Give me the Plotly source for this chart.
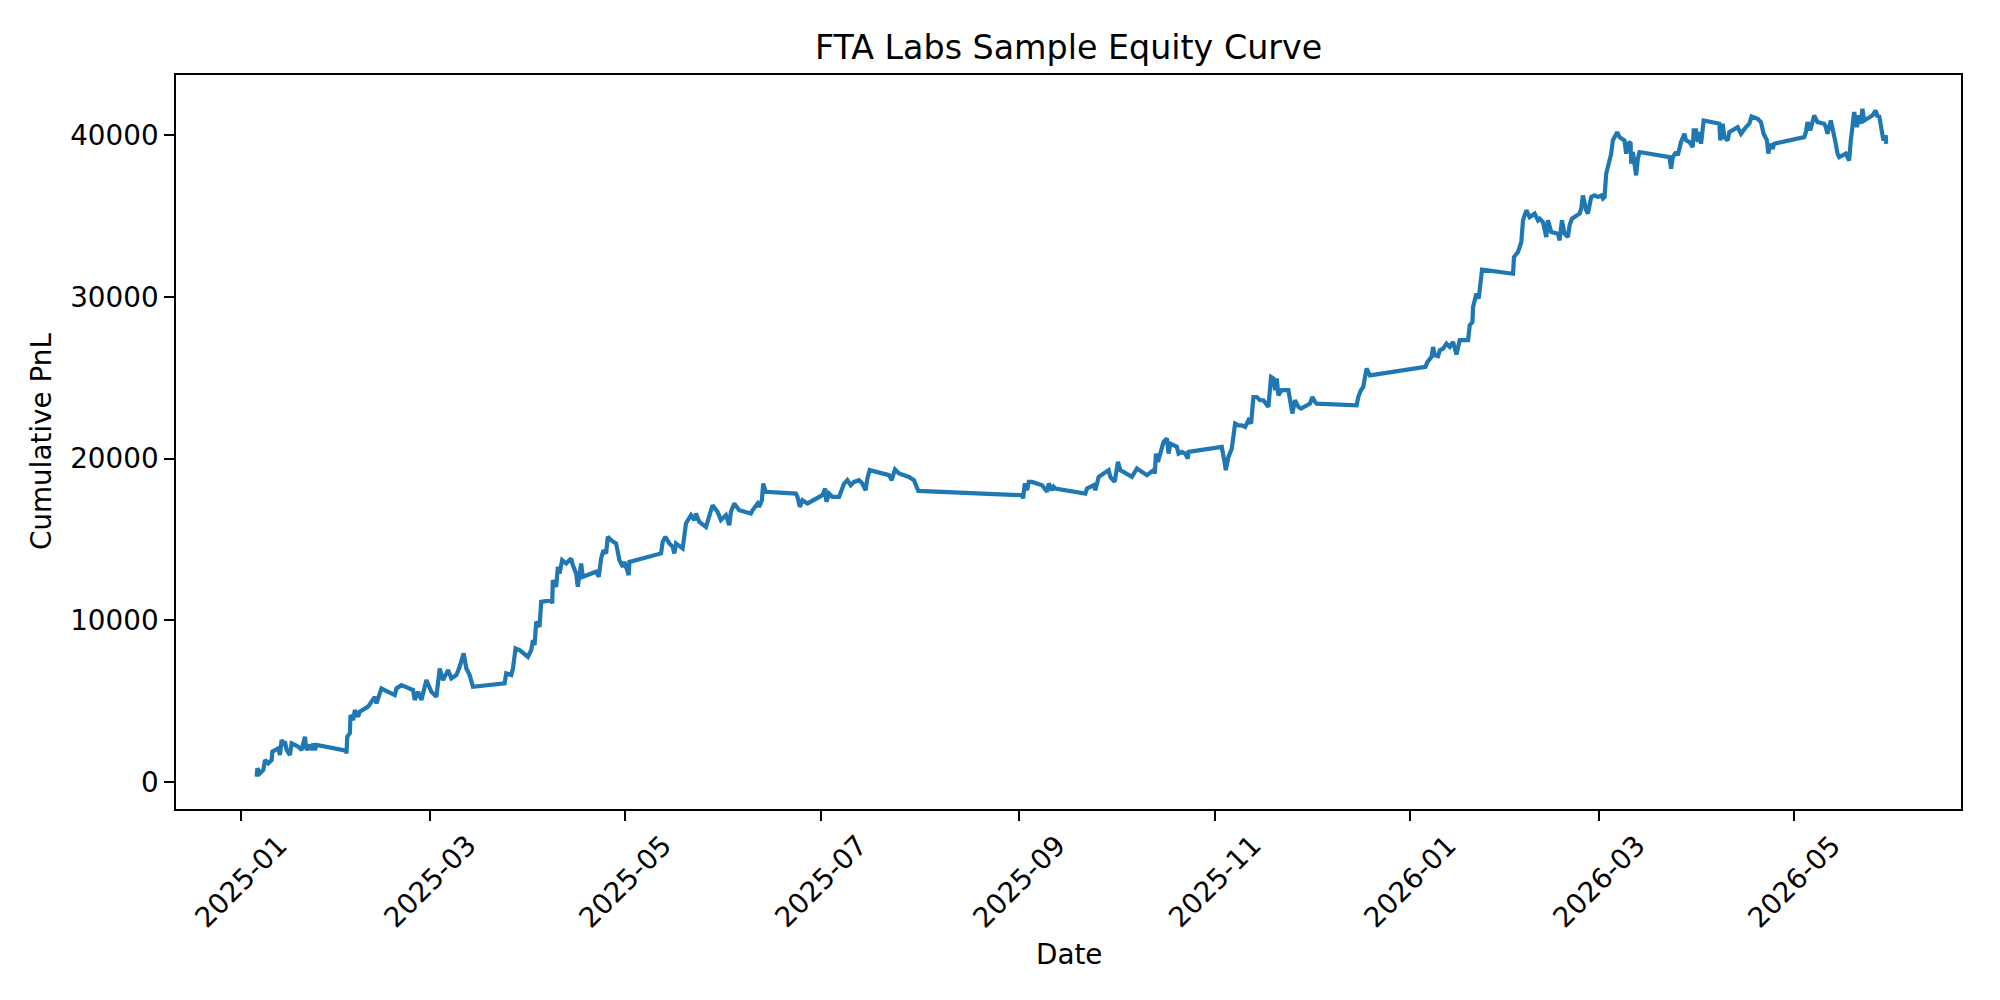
import pandas as pd
import plotly.graph_objects as go

# ---- data ----
start_date = "2025-01-01"
# days since 2025-01-01
day_offset = [
    4.88, 5.09, 5.92, 6.96, 7.48, 8.52, 9.56, 9.77, 11.64, 12.16, 12.68, 13.2, 13.72, 14.24, 15.27, 15.79,
    16.83, 17.87, 18.91, 19.95, 20.47, 21.51, 22.03, 22.55, 23.07, 23.59, 32.73, 32.94, 33.15, 33.98,
    34.19, 35.02, 35.54, 36.57, 37.09, 39.69, 40.73, 41.77, 42.29, 43.85, 45.93, 48.0, 48.53, 50.08,
    53.72, 54.24, 55.28, 56.32, 57.88, 59.44, 61.0, 62.03, 63.07, 64.63, 65.67, 67.23, 68.27, 69.51,
    70.35, 71.38, 72.42, 82.29, 82.81, 84.37, 84.89, 85.72, 86.97, 89.57, 90.61, 91.13, 91.65, 92.17,
    93.2, 93.72, 96.84, 97.15, 97.36, 98.4, 98.92, 99.44, 100.27, 101.52, 103.07, 103.59, 104.63,
    105.15, 106.19, 106.71, 110.87, 111.7, 112.43, 113.15, 113.99, 114.5, 115.55, 117.1, 118.14,
    119.18, 119.7, 121.05, 121.26, 131.13, 131.65, 132.48, 133.73, 134.77, 135.29, 135.81, 137.88,
    138.4, 138.92, 140.48, 141.52, 142.04, 143.08, 145.16, 147.23, 148.79, 149.83, 151.39, 152.43,
    152.95, 153.99, 155.55, 159.19, 159.7, 161.26, 161.78, 162.62, 163.03, 163.86, 173.21, 173.73,
    174.46, 175.29, 176.85, 181.52, 182.36, 182.77, 183.6, 184.64, 186.72, 188.28, 189.32, 190.36,
    191.4, 192.96, 193.99, 195.03, 195.55, 196.28, 202.31, 203.14, 204.18, 205.42, 208.54, 210.1,
    211.45, 243.87, 244.18, 244.7, 245.43, 245.95, 246.99, 249.06, 250.1, 251.66, 252.18, 253.22,
    253.74, 254.26, 263.61, 264.13, 266.21, 266.73, 267.77, 269.33, 270.89, 271.41, 272.76, 273.79,
    274.52, 278.16, 279.71, 282.83, 284.91, 285.3, 285.64, 286.26, 286.99, 288.03, 289.07, 289.59,
    290.11, 292.18, 292.71, 293.74, 294.78, 295.61, 295.82, 306.21, 307.05, 307.46, 308.29, 309.33,
    310.37, 311.41, 312.45, 313.49, 314.53, 315.36, 316.08, 317.12, 318.16, 319.2, 320.76, 321.59,
    322.32, 322.84, 323.36, 323.88, 324.92, 327.0, 328.24, 329.08, 330.11, 330.95, 333.75, 334.48,
    335.31, 335.83, 348.3, 348.82, 349.65, 350.37, 351.41, 352.45, 369.8, 370.43, 371.67, 372.19,
    372.71, 373.75, 374.27, 375.31, 376.35, 377.39, 378.43, 378.95, 379.47, 380.51, 383.1, 383.63,
    384.46, 384.66, 385.7, 386.43, 387.05, 387.47, 397.13, 397.44, 398.69, 399.21, 399.73, 400.25,
    401.29, 402.33, 403.89, 404.93, 405.45, 406.48, 407.0, 407.52, 408.04, 409.08, 411.16, 411.68,
    412.41, 413.24, 414.28, 414.8, 415.52, 417.91, 418.43, 418.95, 419.99, 420.51, 421.55, 422.59,
    423.63, 424.67, 425.19, 425.71, 426.22, 427.26, 427.78, 428.3, 429.66, 430.38, 431.94, 432.46,
    432.98, 433.82, 434.02, 434.54, 435.58, 436.1, 436.62, 445.98, 446.49, 447.01, 448.05, 448.57,
    449.6, 450.65, 451.17, 452.21, 453.24, 453.55, 454.28, 454.8, 455.32, 455.84, 456.67, 461.55,
    461.87, 462.59, 463.11, 464.15, 464.67, 467.27, 468.31, 469.86, 470.9, 471.63, 473.5, 474.54,
    475.37, 476.41, 476.83, 477.45, 478.18, 478.7, 488.05, 488.57, 489.09, 489.92, 491.17, 492.2,
    494.28, 494.8, 495.32, 496.36, 497.4, 497.92, 498.44, 498.96, 501.04, 502.08, 502.6, 503.12,
    503.64, 504.47, 505.2, 505.72, 506.23, 506.75, 509.35, 510.39, 510.91, 511.43, 512.16, 512.78,
    513.51, 513.62,
]
cum_pnl = [
    340, 860, 550, 750, 1370, 1170, 1370, 1890, 2090, 1680, 2610, 2400, 2500, 1990, 1680, 2400,
    2300, 2200, 1990, 2810, 1990, 2300, 1990, 2400, 1990, 2300, 1950, 1780, 2810, 3020,
    4150, 3840, 4460, 4050, 4360, 4670, 4970, 5280, 4870, 5800, 5590, 5390, 5800, 6000,
    5700, 5080, 5590, 5080, 6310, 5590, 5280, 7030, 6310, 6930, 6420, 6620, 7140, 7960,
    7030, 6620, 5900, 6110, 6730, 6620, 7030, 8270, 8170, 7750, 8170, 8780, 8480, 9920,
    9610, 11150, 11250, 11050, 12490, 12080, 13310, 12900, 13730, 13520, 13830, 13420, 12900,
    12080, 13520, 12700, 13010, 12700, 13830, 14340, 14140, 15170, 14960, 14760, 13730,
    13310, 13620, 12800, 13620, 14140, 14860, 15170, 14760, 14550, 14140, 14760, 14450,
    15580, 15990, 16510, 16200, 16610, 16090, 15780, 17120, 16710, 16200, 16510, 15890,
    16710, 17230, 16810, 16610, 16810, 17230, 17020, 17430, 18460, 17950, 17840, 17640,
    17020, 17430, 17230, 17740, 18150, 17330, 17840, 17640, 17640, 18460, 18670, 18360,
    18560, 18670, 18460, 18050, 18770, 19290, 18980, 18670, 19330, 19080, 18870, 18670,
    18010, 17740, 17540, 18460, 18050, 18560, 18560, 18460, 18360, 17950, 18460, 18050,
    18260, 18150, 17840, 18150, 18360, 18050, 18870, 19080, 19290, 18870, 18560, 19800,
    19290, 18870, 19390, 18980, 19290, 19080, 20310, 19800, 20420, 21040, 21240, 20310,
    20930, 20730, 20310, 20420, 20310, 20010, 20420, 20730, 19800, 19290, 20110, 20620,
    22170, 22060, 22060, 21960, 22370, 22170, 23810, 23810, 23610, 23610, 23200, 25050,
    24950, 24230, 24950, 23920, 24230, 24230, 22790, 23610, 23200, 23090, 23400, 23810,
    23510, 23400, 23300, 23810, 24230, 24430, 25570, 25150, 25670, 25980, 26290, 26900,
    26390, 26330, 26700, 26800, 27110, 26900, 27210, 26700, 26440, 27320, 27320, 28240,
    28450, 29370, 30200, 29890, 30820, 31680, 31430, 32460, 32770, 33080, 33390, 34730,
    35350, 34930, 35140, 34730, 34830, 34620, 34210, 33700, 34730, 34010, 33900, 33490,
    34730, 33900, 33700, 34420, 34830, 35140, 35450, 36270, 35350, 35140, 36170, 36270,
    36170, 36270, 36070, 36170, 37610, 38430, 38850, 39670, 40180, 39870, 39670, 38850,
    39460, 39570, 38230, 38950, 37510, 38540, 38950, 38640, 37920, 38640, 38950, 38740,
    39570, 40080, 39670, 39570, 39260, 40290, 40290, 39570, 40180, 39460, 40900, 40700,
    39670, 40700, 39870, 39670, 40180, 40490, 40080, 40490, 40700, 41150, 41010, 40800,
    40080, 39670, 38850, 39460, 39150, 39460, 39870, 40180, 40800, 40290, 41210, 40800,
    40700, 40490, 40080, 40900, 40080, 39460, 38850, 38640, 38850, 38430, 39670, 40490,
    41420, 40490, 41210, 40700, 41630, 40900, 41210, 41520, 41110, 41210, 40490, 39670,
    39980, 39460,
]
x_tick_dates = ["2025-01-01", "2025-03-01", "2025-05-01", "2025-07-01", "2025-09-01",
                "2025-11-01", "2026-01-01", "2026-03-01", "2026-05-01"]
x_tick_labels = ["2025-01", "2025-03", "2025-05", "2025-07", "2025-09",
                 "2025-11", "2026-01", "2026-03", "2026-05"]
y_tick_vals = [0, 10000, 20000, 30000, 40000]
y_tick_labels = ["0", "10000", "20000", "30000", "40000"]

title_text = "FTA Labs Sample Equity Curve"
x_title = "Date"
y_title = "Cumulative PnL"

# ---- build ----
t0 = pd.Timestamp(start_date)
dates = t0 + pd.to_timedelta(day_offset, unit="D")

# visible axis limits as measured on the reference
x_range = [t0 + pd.Timedelta(days=-20.3), t0 + pd.Timedelta(days=537.0)]
y_range = [-1655, 43712]

FONT = "DejaVu Sans"
TICK_SIZE = 27.8
BLACK = "#000000"

fig = go.Figure()
fig.add_trace(go.Scatter(
    x=dates, y=cum_pnl, mode="lines",
    line=dict(color="#1f77b4", width=4.2),
    showlegend=False,
))

fig.update_layout(
    width=2000, height=1000,
    margin=dict(l=176, r=39, t=75, b=191, pad=0),
    paper_bgcolor="white", plot_bgcolor="white",
    font=dict(family=FONT, size=TICK_SIZE, color=BLACK),
    title=dict(text=title_text, x=0.5, xref="paper", xanchor="center",
               y=1 - 47 / 1000, yref="container", yanchor="middle",
               font=dict(family=FONT, size=33.3, color=BLACK)),
)

fig.update_xaxes(
    type="date", range=x_range,
    tickvals=x_tick_dates, showticklabels=False,
    ticks="outside", ticklen=9.7, tickwidth=2.2, tickcolor=BLACK,
    showline=True, linecolor=BLACK, linewidth=2.2, mirror=True,
    showgrid=False, zeroline=False,
)
fig.update_yaxes(
    range=y_range,
    tickvals=y_tick_vals, ticktext=y_tick_labels,
    ticks="outside", ticklen=9.7, tickwidth=2.2, tickcolor=BLACK,
    tickfont=dict(family=FONT, size=TICK_SIZE, color=BLACK),
    showline=True, linecolor=BLACK, linewidth=2.2, mirror=True,
    showgrid=False, zeroline=False,
)

# rotated x tick labels (centred on tick, like matplotlib rotation=45)
for d, lab in zip(x_tick_dates, x_tick_labels):
    fig.add_annotation(
        x=d, xref="x", y=0, yref="paper",
        text=lab, showarrow=False, textangle=-45,
        xanchor="center", yanchor="top", yshift=-17,
        font=dict(family=FONT, size=TICK_SIZE, color=BLACK),
    )

fig.add_annotation(
    x=0.5, xref="paper", y=0, yref="paper", text=x_title, showarrow=False,
    xanchor="center", yanchor="middle", yshift=-145,
    font=dict(family=FONT, size=TICK_SIZE, color=BLACK),
)
fig.add_annotation(
    x=0, xref="paper", y=0.5, yref="paper", text=y_title, showarrow=False,
    textangle=-90, xanchor="center", yanchor="middle", xshift=-135,
    font=dict(family=FONT, size=TICK_SIZE, color=BLACK),
)

fig.write_html("out.html")
